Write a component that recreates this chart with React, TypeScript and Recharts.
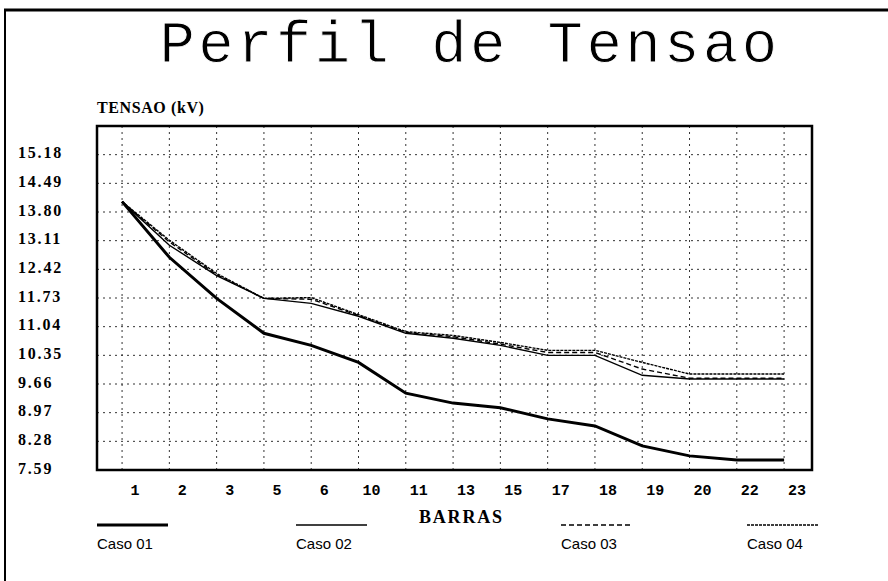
import { LineChart, Line, XAxis, YAxis, CartesianGrid, ReferenceArea } from "recharts";

const barras = ["1", "2", "3", "5", "6", "10", "11", "13", "15", "17", "18", "19", "20", "22", "23"];

const caso01 = [14.05, 12.71, 11.72, 10.88, 10.59, 10.18, 9.44, 9.2, 9.09, 8.82, 8.65, 8.17, 7.93, 7.83, 7.83];
const caso02 = [14.05, 13.0, 12.27, 11.72, 11.6, 11.29, 10.88, 10.76, 10.59, 10.35, 10.35, 9.87, 9.78, 9.78, 9.78];
const caso03 = [14.05, 13.08, 12.29, 11.72, 11.7, 11.31, 10.9, 10.8, 10.62, 10.42, 10.42, 10.02, 9.8, 9.8, 9.8];
const caso04 = [14.05, 13.12, 12.32, 11.72, 11.74, 11.33, 10.92, 10.83, 10.66, 10.47, 10.47, 10.18, 9.9, 9.9, 9.9];

const yTicks = [7.59, 8.28, 8.97, 9.66, 10.35, 11.04, 11.73, 12.42, 13.11, 13.8, 14.49, 15.18];

const data = barras.map((b, i) => ({
  idx: i,
  barra: b,
  caso01: caso01[i],
  caso02: caso02[i],
  caso03: caso03[i],
  caso04: caso04[i],
}));

// series look + where its legend sample sits under the chart
const series = [
  { key: "caso01", name: "Caso 01", width: 3, dash: undefined, legendX: 97 },
  { key: "caso02", name: "Caso 02", width: 1.4, dash: undefined, legendX: 296 },
  { key: "caso03", name: "Caso 03", width: 1.4, dash: "5 3", legendX: 561 },
  { key: "caso04", name: "Caso 04", width: 1.4, dash: "3 1", legendX: 747 },
];

const X_DOMAIN: [number, number] = [-0.53, 14.59];
const Y_DOMAIN: [number, number] = [7.59, 15.87];

function YTick({ y, payload }: any) {
  return (
    <text
      x={18}
      y={y + 3.5}
      fontFamily="'Liberation Serif', serif"
      fontWeight="bold"
      fontSize={16}
      letterSpacing={1.8}
      fill="#000"
    >
      {Number(payload.value).toFixed(2)}
    </text>
  );
}

function XTick({ x, payload }: any) {
  return (
    <text
      x={x + 13}
      y={495}
      textAnchor="middle"
      fontFamily="'Liberation Mono', monospace"
      fontWeight="bold"
      fontSize={15}
      fill="#000"
    >
      {barras[payload.value]}
    </text>
  );
}

export default function App() {
  return (
    <div style={{ position: "absolute", left: 0, top: 0, width: 888, height: 581, background: "#fff" }}>
      <LineChart
        width={888}
        height={581}
        data={data}
        margin={{ top: 126, right: 76, left: 0, bottom: 0 }}
      >
        <CartesianGrid stroke="#333" strokeWidth={1} strokeDasharray="2 4" />
        <XAxis
          dataKey="idx"
          type="number"
          domain={X_DOMAIN}
          ticks={barras.map((_, i) => i)}
          allowDataOverflow
          height={111}
          axisLine={false}
          tickLine={false}
          tick={<XTick />}
        />
        <YAxis
          type="number"
          domain={Y_DOMAIN}
          ticks={yTicks}
          allowDataOverflow
          width={97}
          axisLine={false}
          tickLine={false}
          tick={<YTick />}
        />
        <ReferenceArea
          x1={X_DOMAIN[0]}
          x2={X_DOMAIN[1]}
          y1={Y_DOMAIN[0]}
          y2={Y_DOMAIN[1]}
          fill="none"
          stroke="#000"
          strokeWidth={2.5}
          ifOverflow="visible"
        />
        {series.map((s) => (
          <Line
            key={s.key}
            type="linear"
            dataKey={s.key}
            name={s.name}
            stroke="#000"
            strokeWidth={s.width}
            strokeDasharray={s.dash}
            dot={false}
            activeDot={false}
            isAnimationActive={false}
          />
        ))}
      </LineChart>

      <svg
        width={888}
        height={581}
        style={{ position: "absolute", left: 0, top: 0, pointerEvents: "none" }}
      >
        <line x1={5} y1={9} x2={5} y2={581} stroke="#000" strokeWidth={2} />
        <line x1={4} y1={10} x2={888} y2={10} stroke="#000" strokeWidth={3} />
        <text
          x={470}
          y={62}
          textAnchor="middle"
          fontFamily="'Liberation Mono', monospace"
          fontSize={59}
          letterSpacing={3.4}
          stroke="#fff"
          strokeWidth={0.9}
          paintOrder="normal"
          fill="#000"
        >
          Perfil de Tensao
        </text>
        <text
          x={97}
          y={113}
          fontFamily="'Liberation Serif', serif"
          fontWeight="bold"
          fontSize={16}
          letterSpacing={0.6}
          fill="#000"
        >
          TENSAO (kV)
        </text>
        <text
          x={419}
          y={523}
          fontFamily="'Liberation Serif', serif"
          fontWeight="bold"
          fontSize={18}
          letterSpacing={1.8}
          fill="#000"
        >
          BARRAS
        </text>
        {series.map((s) => (
          <g key={s.key}>
            <line
              x1={s.legendX}
              y1={525}
              x2={s.legendX + 71}
              y2={525}
              stroke="#000"
              strokeWidth={s.width}
              strokeDasharray={s.dash}
            />
            <text
              x={s.legendX}
              y={549}
              fontFamily="'Liberation Sans', Arial, sans-serif"
              fontSize={15}
              fill="#000"
            >
              {s.name}
            </text>
          </g>
        ))}
      </svg>
    </div>
  );
}
